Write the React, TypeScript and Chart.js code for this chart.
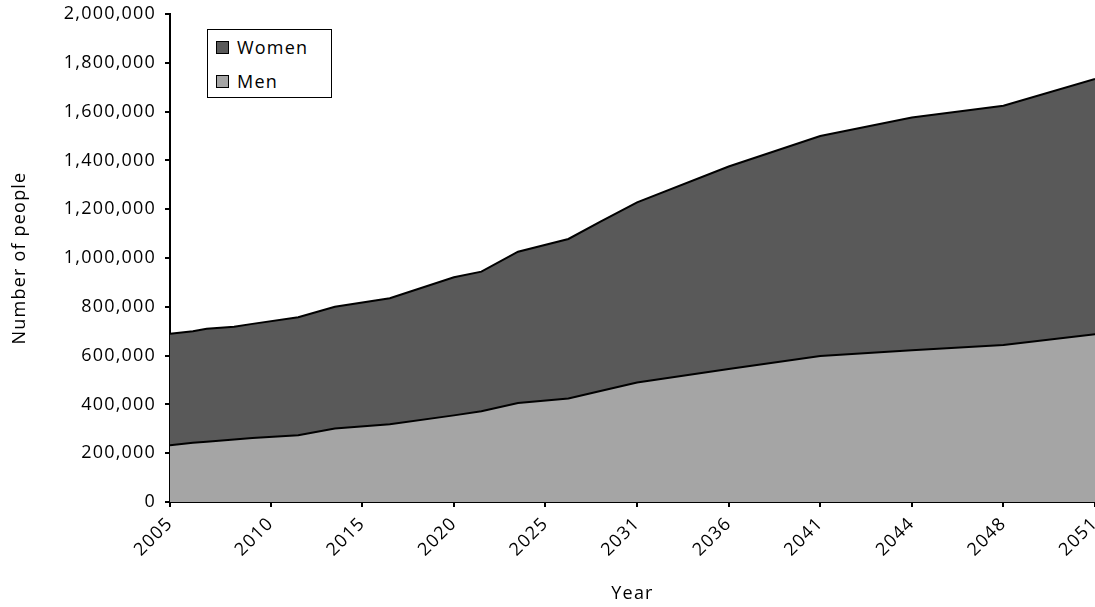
import React, { useEffect, useRef } from "react";
import { Chart, registerables } from "chart.js";

Chart.register(...registerables);

// Position of each data point along the time axis (in periods from 2005)
const periods = [0, 2.5, 4, 7, 9, 14, 18, 24, 31, 34, 38, 43.5, 47, 51, 61, 71, 81, 91, 101];
const men = [233000, 243000, 247000, 256000, 262000, 274000, 301000, 319000, 355000, 372000, 406000, 424000, 455000, 490000, 545000, 598000, 622000, 643000, 688000];
const women = [457000, 457000, 463000, 462000, 468000, 483000, 499000, 516000, 566000, 572000, 620000, 654000, 694000, 738000, 830000, 902000, 954000, 981000, 1046000];

const tickPeriods = [0, 11, 21, 31, 41, 51, 61, 71, 81, 91, 101];
const tickLabels = ["2005", "2010", "2015", "2020", "2025", "2031", "2036", "2041", "2044", "2048", "2051"];

const seriesLabels = ["Women", "Men"];
const seriesColors = ["#595959", "#a5a5a5"];

const FONT = "'Open Sans', sans-serif";
const FS = 18;
const WEIGHT = "400";
const SPACING = "1.2px";

const spacingPlugin = {
  id: "letterSpacing",
  beforeUpdate(chart: any) {
    chart.ctx.letterSpacing = SPACING;
  },
  beforeDraw(chart: any) {
    chart.ctx.letterSpacing = SPACING;
  },
};

export default function App() {
  const ref = useRef<HTMLCanvasElement>(null);
  useEffect(() => {
    document.body.style.margin = "0";
    const ctx = ref.current!;
    const chart = new Chart(ctx, {
      type: "line",
      plugins: [spacingPlugin],
      data: {
        datasets: [
          {
            label: "Men",
            data: periods.map((p, i) => ({ x: p, y: men[i] })),
            backgroundColor: seriesColors[1],
            borderColor: "#000",
            borderWidth: 2,
            pointRadius: 0,
            fill: "origin",
            tension: 0,
          },
          {
            label: "Women",
            data: periods.map((p, i) => ({ x: p, y: women[i] })),
            backgroundColor: seriesColors[0],
            borderColor: "#000",
            borderWidth: 2,
            pointRadius: 0,
            fill: "-1",
            tension: 0,
          },
        ],
      },
      options: {
        animation: false,
        responsive: false,
        devicePixelRatio: 1,
        layout: { padding: { top: 14, left: 0, right: 0, bottom: 0 } },
        plugins: { legend: { display: false }, tooltip: { enabled: false } },
        scales: {
          x: {
            type: "linear",
            min: 0,
            max: 101,
            afterBuildTicks: (scale: any) => {
              scale.ticks = tickPeriods.map((v) => ({ value: v }));
            },
            afterFit: (scale: any) => {
              scale.height = 105;
              scale.paddingLeft = 0;
              scale.paddingRight = 0;
            },
            ticks: {
              autoSkip: false,
              minRotation: 45,
              maxRotation: 45,
              padding: 6,
              color: "#000",
              font: { family: FONT, size: FS, weight: WEIGHT },
              callback: (v: any) => {
                const i = tickPeriods.indexOf(Number(v));
                return i >= 0 ? tickLabels[i] : "";
              },
            },
            grid: { display: true, drawOnChartArea: false, drawTicks: true, tickLength: 5, color: "#000", lineWidth: 2 },
            border: { display: true, color: "#000", width: 2 },
            title: { display: true, text: "Year", color: "#000", font: { family: FONT, size: FS, weight: WEIGHT }, padding: { top: 0, bottom: 2 } },
          },
          y: {
            stacked: true,
            min: 0,
            max: 2000000,
            afterFit: (scale: any) => {
              scale.width = 170;
              scale.paddingTop = 0;
              scale.paddingBottom = 0;
            },
            ticks: {
              stepSize: 200000,
              padding: 9,
              color: "#000",
              font: { family: FONT, size: FS, weight: WEIGHT },
              callback: (v: any) => Number(v).toLocaleString("en-US"),
            },
            grid: { display: true, drawOnChartArea: false, drawTicks: true, tickLength: 5, color: "#000", lineWidth: 2 },
            border: { display: true, color: "#000", width: 2 },
            title: { display: true, text: "Number of people", color: "#000", font: { family: FONT, size: FS, weight: WEIGHT }, padding: { top: 9, bottom: 0 } },
          },
        },
      },
    });
    return () => chart.destroy();
  }, []);

  return (
    <div style={{ position: "absolute", left: 0, top: 0, width: 1095, height: 607 }}>
      <canvas ref={ref} width={1095} height={607} />
      <div
        style={{
          position: "absolute",
          left: 207,
          top: 29,
          width: 123,
          height: 67,
          border: "1.5px solid #000",
          background: "#fff",
          fontFamily: FONT,
          fontSize: FS,
          fontWeight: Number(WEIGHT),
          letterSpacing: SPACING,
          color: "#000",
        }}
      >
        {seriesLabels.map((l, i) => (
          <div key={l} style={{ position: "absolute", left: 8, top: 7 + i * 34, height: 20, display: "flex", alignItems: "center" }}>
            <span
              style={{
                display: "inline-block",
                width: 11,
                height: 11,
                border: "1.5px solid #000",
                background: seriesColors[i],
                marginRight: 8,
              }}
            />
            <span style={{ lineHeight: "20px" }}>{l}</span>
          </div>
        ))}
      </div>
    </div>
  );
}
